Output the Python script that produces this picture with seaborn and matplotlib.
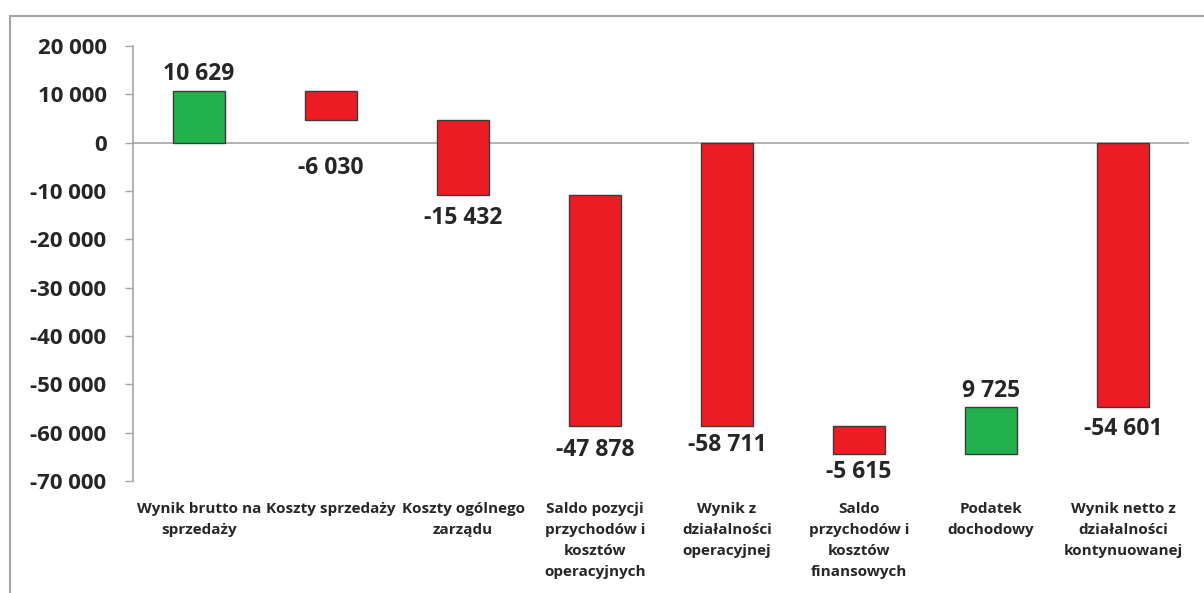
import matplotlib
matplotlib.use("Agg")
import matplotlib.pyplot as plt
import seaborn as sns
import numpy as np
import pandas as pd
from matplotlib.lines import Line2D

categories = [
    "Wynik brutto na\nsprzedaży",
    "Koszty sprzedaży",
    "Koszty ogólnego\nzarządu",
    "Saldo pozycji\nprzychodów i\nkosztów\noperacyjnych",
    "Wynik z\ndziałalności\noperacyjnej",
    "Saldo\nprzychodów i\nkosztów\nfinansowych",
    "Podatek\ndochodowy",
    "Wynik netto z\ndziałalności\nkontynuowanej",
]
changes = [10629, -6030, -15432, -47878, 0, -5615, 9725, 0]
is_total = [False, False, False, False, True, False, False, True]
y_ticks = [20000, 10000, 0, -10000, -20000, -30000, -40000, -50000, -60000, -70000]

# waterfall geometry from the data
bottoms, heights, shown = [], [], []
running = 0
for c, t in zip(changes, is_total):
    if t:
        bottoms.append(0)
        heights.append(running)
        shown.append(running)
    else:
        bottoms.append(running)
        heights.append(c)
        shown.append(c)
        running += c

GREEN = "#23B14D"
RED = "#ED1C24"
TXT = "#262626"
GRAY = "#A6A6A6"

sns.set_theme(style="white")
plt.rcParams["font.family"] = ["Open Sans", "DejaVu Sans"]
plt.rcParams["font.weight"] = "bold"

fig = plt.figure(figsize=(12.04, 5.93), dpi=100)
ax = fig.add_axes([133 / 1204, 1 - 481 / 593, (1189 - 133) / 1204, (481 - 46) / 593])

df = pd.DataFrame({"cat": categories, "h": heights})
sns.barplot(data=df, x="cat", y="h", bottom=bottoms, width=0.4, color=RED,
            edgecolor="#3a3a3a", linewidth=1.0, saturation=1, ax=ax)
for p, s in zip(ax.patches, shown):
    p.set_facecolor(GREEN if s > 0 else RED)

ax.set_xlim(-0.5, len(categories) - 0.5)
ax.set_ylim(-70000, 20000)
ax.axhline(0, color=GRAY, lw=1.2, zorder=0.5)

ax.set_yticks(y_ticks)
ax.set_yticklabels([f"{v:,}".replace(",", " ") for v in y_ticks],
                   fontsize=16, fontweight="bold", color=TXT)
ax.tick_params(axis="y", length=6, width=1, color=GRAY, pad=13, left=True)
ax.tick_params(axis="x", length=0, pad=15)
ax.set_xticks(range(len(categories)))
ax.set_xticklabels(categories, fontsize=11, fontweight="bold", color=TXT,
                   linespacing=1.64, va="top")
ax.set_xlabel("")
ax.set_ylabel("")

for side in ["top", "right", "bottom"]:
    ax.spines[side].set_visible(False)
ax.spines["left"].set_color(GRAY)
ax.spines["left"].set_linewidth(1.2)

label_gap = [12.5, 34, 16.5, 17, 13.5, 13.5, 11, 16.5]
for i, (b, h, s) in enumerate(zip(bottoms, heights, shown)):
    top = max(b, b + h)
    low = min(b, b + h)
    txt = f"{s:,}".replace(",", " ")
    if s > 0:
        ax.annotate(txt, (i, top), xytext=(0, label_gap[i]), textcoords="offset points",
                    ha="center", va="center", fontsize=16.5, fontweight="bold", color=TXT)
    else:
        ax.annotate(txt, (i, low), xytext=(0, -label_gap[i]), textcoords="offset points",
                    ha="center", va="center", fontsize=16.5, fontweight="bold", color=TXT)

# outer frame (top and left edges visible)
fig.add_artist(Line2D([10 / 1204, 1.0], [1 - 16 / 593, 1 - 16 / 593],
                      transform=fig.transFigure, color=GRAY, lw=1.5))
fig.add_artist(Line2D([10 / 1204, 10 / 1204], [1 - 16 / 593, 0],
                      transform=fig.transFigure, color=GRAY, lw=1.5))

fig.savefig("out.png", dpi=100, facecolor="white")
